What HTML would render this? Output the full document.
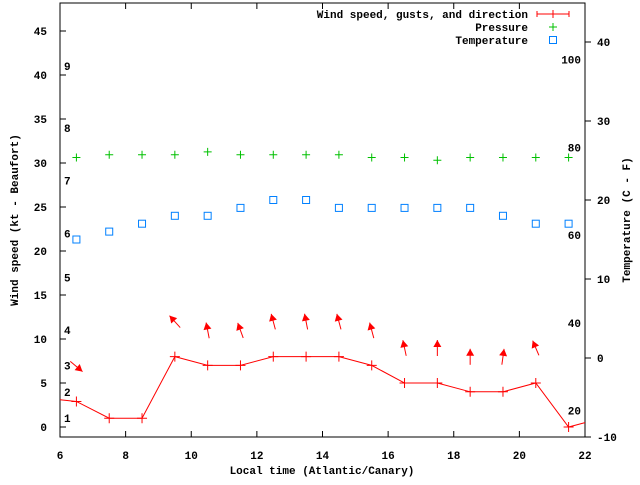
<!DOCTYPE html>
<html><head><meta charset="utf-8"><style>
html,body{margin:0;padding:0;background:#fff;}
svg text{font-family:"Liberation Mono","DejaVu Sans Mono",monospace;font-weight:bold;font-size:11px;fill:#000;}
</style></head><body>
<svg id="chart" width="640" height="480" xmlns="http://www.w3.org/2000/svg">
<rect x="0" y="0" width="640" height="480" fill="#fff"/>
<g id="g"></g>
</svg>
<script>
const hours = [6.5,7.5,8.5,9.5,10.5,11.5,12.5,13.5,14.5,15.5,16.5,17.5,18.5,19.5,20.5,21.5];
const windSpeed = [2.9,1,1,8,7,7,8,8,8,7,5,5,4,4,5,0];
const windDir = [130,318,349,340,345,349,345,345,348,0,0,8,337];
const windDirHours = [6.5,9.5,10.5,11.5,12.5,13.5,14.5,15.5,16.5,17.5,18.5,19.5,20.5];
const pressure = [1016,1017,1017,1017,1018,1017,1017,1017,1017,1016,1016,1015,1016,1016,1016,1016];
const temperature = [15,16,17,18,18,19,20,20,19,19,19,19,19,18,17,17];
const xTicks = [6,8,10,12,14,16,18,20,22];
const yTicks = [0,5,10,15,20,25,30,35,40,45];
const tTicks = [-10,0,10,20,30,40];
const beaufort = [[1,1],[2,4],[3,7],[4,11],[5,17],[6,22],[7,28],[8,34],[9,41]];
const fahrenheit = [20,40,60,80,100];

const NS="http://www.w3.org/2000/svg";
const g=document.getElementById('g');
const L=60,R=585,T=3,B=437;
const X=t=>L+(t-6)*(R-L)/16;
const Y=v=>427-v*(427-31)/45;
const TY=c=>358-c*7.9;
const FY=f=>TY((f-32)*5/9);
const PY=p=>157.5-(p-1016)*2.8;
function el(tag,attrs,text){const e=document.createElementNS(NS,tag);for(const k in attrs)e.setAttribute(k,attrs[k]);if(text!==undefined)e.textContent=text;g.appendChild(e);return e;}

// frame
const fr=el('rect',{x:L,y:T,width:R-L,height:B-T,fill:'none',stroke:'#000','stroke-width':1});


xTicks.forEach(t=>{
  const x=X(t);
  const a=el('line',{x1:x,y1:B,x2:x,y2:B-6,stroke:'#000'});
  
  
  el('line',{x1:x,y1:T,x2:x,y2:T+6,stroke:'#000'});
  const tx=el('text',{x:x,y:B+22,'text-anchor':'middle'},String(t));
  
  
});
yTicks.forEach(v=>{
  const y=Y(v);
  el('line',{x1:L,y1:y,x2:L+6,y2:y,stroke:'#000'});
  const tx=el('text',{x:L-13,y:y+4,'text-anchor':'end'},String(v));
  
  
});
tTicks.forEach(c=>{
  const y=TY(c);
  el('line',{x1:R,y1:y,x2:R+6,y2:y,stroke:'#000'});
  const tx=el('text',{x:R+12,y:y+4,'text-anchor':'start'},String(c));
  
  
});
beaufort.forEach(b=>{
  const tx=el('text',{x:64,y:Y(b[1])+4},String(b[0]));
  
  
});
fahrenheit.forEach(f=>{
  const tx=el('text',{x:581,y:FY(f)+4,'text-anchor':'end'},String(f));
  
  
});

// axis titles
let t1=el('text',{x:322,y:474,'text-anchor':'middle'},'Local time (Atlantic/Canary)');


let t2=el('text',{x:0,y:0,'text-anchor':'middle',transform:'translate(18,220) rotate(-90)'},'Wind speed (kt - Beaufort)');


let t3=el('text',{x:0,y:0,'text-anchor':'middle',transform:'translate(630,220) rotate(-90)'},'Temperature (C - F)');



// wind line (with edge extension)
const pts=[[L,Y(3.1)]].concat(hours.map((h,i)=>[X(h),Y(windSpeed[i])])).concat([[R,Y(0.5)]]);
const wl=el('polyline',{points:pts.map(p=>p.join(',')).join(' '),fill:'none',stroke:'#f00','stroke-width':1});


hours.forEach((h,i)=>{
  const x=X(h),y=Y(windSpeed[i]);
  const p=el('path',{d:`M${x-5},${y}H${x+5}M${x},${y-5}V${y+5}`,stroke:'#f00','stroke-width':1});
  
  
});
// direction arrows
windDirHours.forEach((h,i)=>{
  const idx=hours.indexOf(h);
  const cx=X(h),cy=Y(windSpeed[idx])-35;
  const a=windDir[i]*Math.PI/180, dx=Math.sin(a), dy=-Math.cos(a), len=16;
  const x1=cx-dx*len/2,y1=cy-dy*len/2,x2=cx+dx*len/2,y2=cy+dy*len/2;
  const px=-dy,py=dx;
  const ln=el('line',{x1:x1,y1:y1,x2:x2,y2:y2,stroke:'#f00','stroke-width':1});
  
  
  const hx=x2-dx*7,hy=y2-dy*7;
  const hd=el('polygon',{points:`${x2},${y2} ${hx+px*4},${hy+py*4} ${hx-px*4},${hy-py*4}`,fill:'#f00'});
  
  
});
// pressure
hours.forEach((h,i)=>{
  const x=X(h),y=PY(pressure[i]);
  const p=el('path',{d:`M${x-4},${y}H${x+4}M${x},${y-4}V${y+4}`,stroke:'#00c000','stroke-width':1});
  
  
});
// temperature
hours.forEach((h,i)=>{
  const x=X(h),y=TY(temperature[i]);
  const p=el('rect',{x:x-3.5,y:y-3.5,width:7,height:7,fill:'none',stroke:'#0080ff','stroke-width':1});
  
  
});
// legend
const lg=[['Wind speed, gusts, and direction',14],['Pressure',27],['Temperature',40]];
lg.forEach(l=>{
  const tx=el('text',{x:528,y:l[1]+4,'text-anchor':'end'},l[0]);
  
  
});
let s1=el('path',{d:'M537,14H569M537,11V17M569,11V17M553,10V18',stroke:'#f00'});


let s2=el('path',{d:'M549,27H557M553,23V31',stroke:'#00c000'});


let s3=el('rect',{x:549.5,y:36.5,width:7,height:7,fill:'none',stroke:'#0080ff'});


</script>
</body></html>
